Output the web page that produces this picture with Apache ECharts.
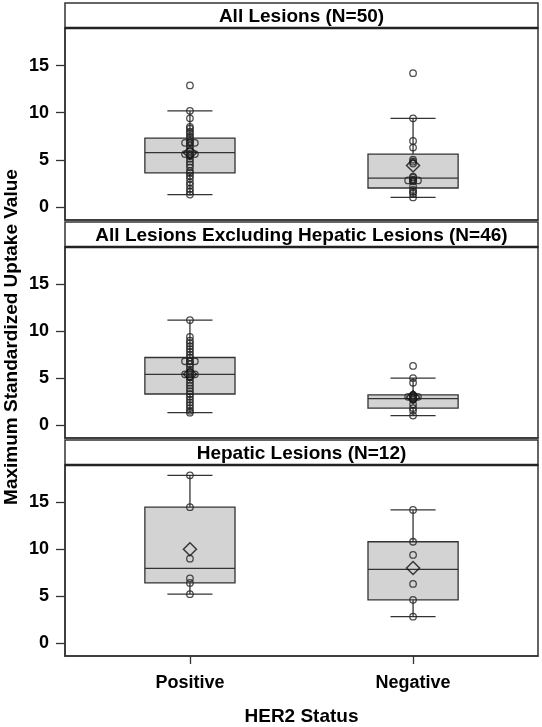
<!DOCTYPE html>
<html><head><meta charset="utf-8">
<script src="https://cdn.jsdelivr.net/npm/echarts@6/dist/echarts.min.js"></script>
<style>html,body{margin:0;padding:0;background:#fff}#c{width:542px;height:727px}</style>
</head><body><div id="c"></div>
<script>
// ---------- data ----------
const categories = ['Positive', 'Negative'];
const panelTitles = ['All Lesions (N=50)', 'All Lesions Excluding Hepatic Lesions (N=46)', 'Hepatic Lesions (N=12)'];
const yTicks = [0, 5, 10, 15];
const xAxisTitle = 'HER2 Status';
const yAxisTitle = 'Maximum Standardized Uptake Value';

// box statistics: [lower whisker, Q1, median, Q3, upper whisker]
const boxAllPos = [1.3, 3.6, 5.75, 7.3, 10.2];
const boxAllNeg = [1.0, 2.0, 3.05, 5.6, 9.4];
const boxExclPos = [1.3, 3.3, 5.4, 7.2, 11.2];
const boxExclNeg = [1.0, 1.8, 2.8, 3.2, 5.0];
const boxHepPos = [5.2, 6.4, 7.95, 14.5, 17.9];
const boxHepNeg = [2.8, 4.6, 7.85, 10.8, 14.2];

// means (diamonds)
const meanAll = [5.75, 4.4];
const meanExcl = [5.4, 2.95];
const meanHep = [10.0, 8.0];

// individual observations (centre column)
const ptsAllPos = [12.9, 10.2, 9.4, 8.5, 8.3, 8.0, 7.8, 7.5, 7.3, 7.0, 6.8, 6.5, 6.2, 5.9, 5.6, 5.4, 5.1, 4.8, 4.5, 4.2, 3.8, 3.6, 3.3, 3.0, 2.6, 2.3, 1.9, 1.6, 1.3];
const ptsAllNeg = [14.2, 9.4, 7.0, 6.3, 5.0, 4.8, 4.6, 3.2, 3.1, 2.9, 2.8, 2.7, 2.2, 1.8, 1.6, 1.4, 1.0];
const ptsExclPos = [11.2, 9.4, 9.0, 8.7, 8.4, 8.1, 7.8, 7.5, 7.2, 6.8, 6.5, 6.2, 5.9, 5.6, 5.4, 5.1, 4.8, 4.5, 4.2, 3.9, 3.6, 3.3, 3.0, 2.7, 2.4, 2.1, 1.8, 1.5, 1.3];
const ptsExclNeg = [6.3, 5.0, 4.5, 3.2, 3.1, 3.0, 2.9, 2.8, 2.7, 2.2, 1.8, 1.5, 1.0];
const ptsHepPos = [17.9, 14.5, 9.0, 6.9, 6.4, 5.2];
const ptsHepNeg = [14.2, 10.8, 9.4, 6.3, 4.6, 2.8];
// tied observations drawn side by side (one circle each side of centre)
const tiesAllPos = [6.8, 5.6];
const tiesAllNeg = [2.8];
const tiesExclPos = [6.8, 5.4];
const tiesExclNeg = [3.0];
const tiesHepPos = [];
const tiesHepNeg = [];

// ---------- layout / style ----------
const FONT = '"Liberation Sans", Arial, Helvetica, sans-serif';
const LINE = '#333';
const GRID_LEFT = 65, GRID_W = 473;
const panels = [
  {top: 28, height: 192, head: 3},
  {top: 247, height: 191, head: 222},
  {top: 465, height: 192, head: 440}
];
const BOX_W = 0.404;   // in x-axis units
const TIE_OFF = 0.022;
const X_MIN = 0.44, X_MAX = 2.56, Y_MIN = -1.4, Y_MAX = 19;

const boxes = [[boxAllPos, boxAllNeg], [boxExclPos, boxExclNeg], [boxHepPos, boxHepNeg]];
const means = [meanAll, meanExcl, meanHep];
const pts = [[ptsAllPos, ptsAllNeg], [ptsExclPos, ptsExclNeg], [ptsHepPos, ptsHepNeg]];
const ties = [[tiesAllPos, tiesAllNeg], [tiesExclPos, tiesExclNeg], [tiesHepPos, tiesHepNeg]];

function renderBox(params, api) {
  const x = api.value(0);
  const lo = api.coord([x, api.value(1)]);
  const q1 = api.coord([x, api.value(2)]);
  const md = api.coord([x, api.value(3)]);
  const q3 = api.coord([x, api.value(4)]);
  const hi = api.coord([x, api.value(5)]);
  const bw = api.size([BOX_W, 0])[0];
  const cw = bw / 2;
  const cx = lo[0];
  const ls = {stroke: LINE, lineWidth: 1.3, fill: null};
  return {type: 'group', children: [
    {type: 'line', shape: {x1: cx, y1: hi[1], x2: cx, y2: q3[1]}, style: ls},
    {type: 'line', shape: {x1: cx, y1: q1[1], x2: cx, y2: lo[1]}, style: ls},
    {type: 'line', shape: {x1: cx - cw / 2, y1: hi[1], x2: cx + cw / 2, y2: hi[1]}, style: ls},
    {type: 'line', shape: {x1: cx - cw / 2, y1: lo[1], x2: cx + cw / 2, y2: lo[1]}, style: ls},
    {type: 'rect', shape: {x: cx - bw / 2, y: q3[1], width: bw, height: q1[1] - q3[1]},
      style: {fill: '#d3d3d3', stroke: LINE, lineWidth: 1.3}},
    {type: 'line', shape: {x1: cx - bw / 2, y1: md[1], x2: cx + bw / 2, y2: md[1]}, style: ls}
  ]};
}

const grid = [], xAxis = [], yAxis = [], series = [], graphic = [];
panels.forEach((p, i) => {
  const last = i === panels.length - 1;
  grid.push({left: GRID_LEFT, top: p.top, width: GRID_W, height: p.height,
    show: true, borderColor: LINE, borderWidth: 1.5, backgroundColor: '#fff'});
  xAxis.push({
    type: 'value', gridIndex: i, min: X_MIN, max: X_MAX,
    splitLine: {show: false},
    axisLine: {show: true, onZero: false, lineStyle: {color: LINE, width: 1.5}},
    axisTick: {show: last, customValues: [1, 2], length: 8, lineStyle: {color: LINE, width: 1.3}},
    axisLabel: {show: last, customValues: [1, 2], formatter: v => categories[Math.round(v) - 1],
      fontFamily: FONT, fontWeight: 'bold', fontSize: 18, color: '#000', margin: 18},
    name: last ? xAxisTitle : '', nameLocation: 'middle', nameGap: 51,
    nameTextStyle: {fontFamily: FONT, fontWeight: 'bold', fontSize: 19, color: '#000'}
  });
  yAxis.push({
    type: 'value', gridIndex: i, min: Y_MIN, max: Y_MAX,
    splitLine: {show: false},
    axisLine: {show: true, onZero: false, lineStyle: {color: LINE, width: 1.5}},
    axisTick: {show: true, customValues: yTicks, length: 9, lineStyle: {color: LINE, width: 1.3}},
    axisLabel: {customValues: yTicks, fontFamily: FONT, fontWeight: 'bold', fontSize: 18, color: '#000', margin: 16}
  });
  // box
  series.push({
    type: 'custom', xAxisIndex: i, yAxisIndex: i, renderItem: renderBox, silent: true,
    data: boxes[i].map((b, k) => [k + 1].concat(b)), z: 2
  });
  // observations
  const obs = [];
  pts[i].forEach((arr, k) => arr.forEach(v => obs.push([k + 1, v])));
  ties[i].forEach((arr, k) => arr.forEach(v => {
    obs.push([k + 1 - TIE_OFF, v]); obs.push([k + 1, v]); obs.push([k + 1 + TIE_OFF, v]);
  }));
  series.push({
    type: 'scatter', xAxisIndex: i, yAxisIndex: i, symbol: 'circle', symbolSize: 6.5,
    itemStyle: {color: 'rgba(0,0,0,0)', borderColor: '#222', borderWidth: 1.3},
    data: obs, z: 4, silent: true
  });
  // means
  series.push({
    type: 'scatter', xAxisIndex: i, yAxisIndex: i, symbol: 'diamond', symbolSize: [13, 13],
    itemStyle: {color: 'rgba(0,0,0,0)', borderColor: '#111', borderWidth: 1.5},
    data: means[i].map((m, k) => [k + 1, m]), z: 5, silent: true
  });
  // header strip
  graphic.push({type: 'rect', z: 10, shape: {x: GRID_LEFT, y: p.head, width: GRID_W, height: p.top - p.head},
    style: {fill: '#fff', stroke: LINE, lineWidth: 1.5}});
  graphic.push({type: 'line', z: 10, shape: {x1: GRID_LEFT, y1: p.top, x2: GRID_LEFT + GRID_W, y2: p.top},
    style: {stroke: '#222', lineWidth: 2.5}});
  graphic.push({type: 'text', z: 11, x: GRID_LEFT + GRID_W / 2, y: (p.head + p.top) / 2 + 1,
    style: {text: panelTitles[i], font: 'bold 19px ' + FONT, fill: '#000', align: 'center', verticalAlign: 'middle'}});
});
graphic.push({type: 'text', z: 11, x: 12, y: 337, rotation: Math.PI / 2,
  style: {text: yAxisTitle, font: 'bold 19px ' + FONT, fill: '#000', align: 'center', verticalAlign: 'middle'}});

const chart = echarts.init(document.getElementById('c'), null, {renderer: 'canvas'});
chart.setOption({animation: false, backgroundColor: '#fff', grid, xAxis, yAxis, series, graphic});
</script>
</body></html>
